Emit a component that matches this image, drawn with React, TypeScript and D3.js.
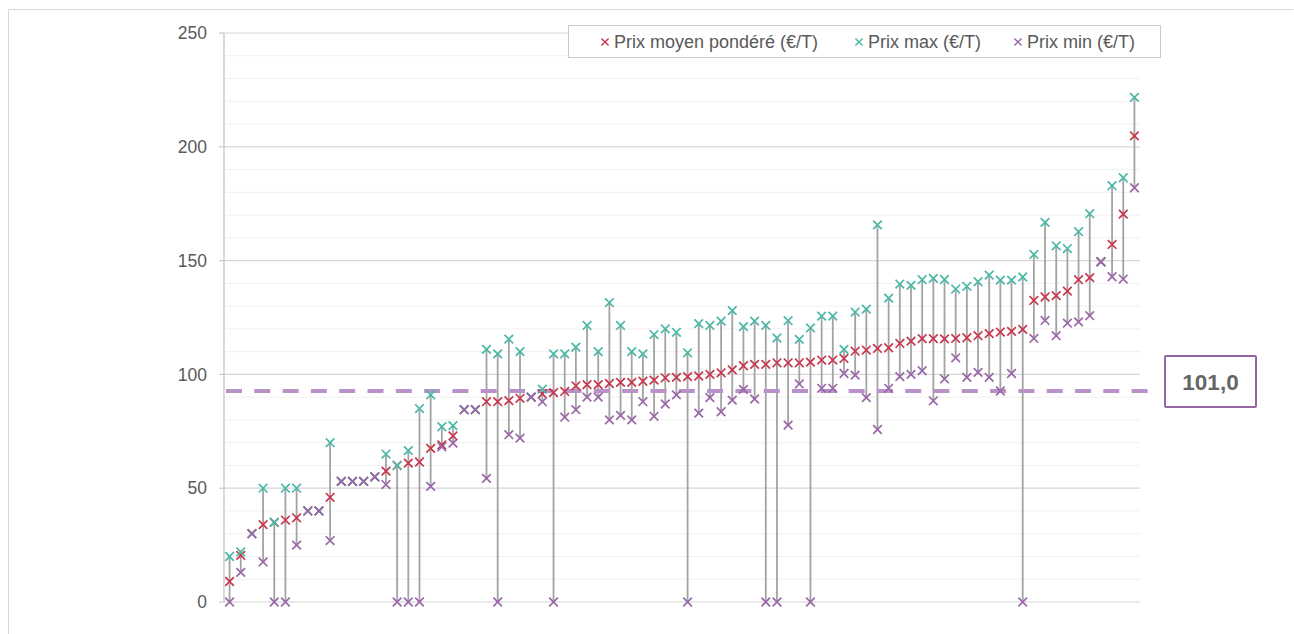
import React from "react";
import * as d3 from "d3";

const categories: number[] = Array.from({ length: 82 }, (_, i) => i + 1);

const avgPrice: number[] = [
  9, 20.5, 30, 34, 35, 36, 37, 40, 40, 46,
  53, 53, 53, 55, 57.5, 60, 61, 61.5, 67.5, 69,
  73, 84.5, 84.5, 88, 88, 88.5, 89.5, 90, 91.5, 92,
  92.5, 95, 95.5, 95.5, 96, 96.5, 96.5, 97, 97.5, 98.5,
  98.7, 99, 99.3, 100, 100.7, 102, 103.8, 104.4, 104.4, 105.1,
  105.1, 105.1, 105.4, 106.3, 106.3, 107, 110.2, 110.7, 111.4, 111.7,
  113.6, 114.6, 115.7, 115.7, 115.6, 115.8, 116.1, 117, 117.9, 118.6,
  118.9, 119.8, 132.5, 134, 134.6, 136.6, 141.6, 142.5, 149.5, 157.1,
  170.4, 204.8,
];

const maxPrice: number[] = [
  20, 22, 30, 50, 35, 50, 50, 40, 40, 70,
  53, 53, 53, 55, 65, 60, 66.5, 85, 91, 77,
  77.5, 84.5, 84.5, 111, 109, 115.5, 110, 90, 93.5, 109,
  109, 112, 121.5, 110, 131.5, 121.5, 110, 109, 117.5, 120,
  118.5, 109.5, 122.3, 121.5, 123.4, 128, 121, 123.4, 121.5, 116,
  123.6, 115.4, 120.4, 125.6, 125.6, 111, 127.4, 128.7, 165.7, 133.5,
  139.7, 139.1, 141.6, 142.2, 141.7, 137.5, 138.7, 140.7, 143.6, 141.4,
  141.4, 142.8, 152.7, 166.8, 156.5, 155.3, 162.7, 170.6, 149.5, 182.9,
  186.4, 221.7,
];

const minPrice: number[] = [
  0, 13, 30, 17.6, 0, 0, 25, 40, 40, 27,
  53, 53, 53, 55, 51.6, 0, 0, 0, 50.8, 68.2,
  69.8, 84.5, 84.5, 54.3, 0, 73.5, 72, 90, 88, 0,
  81.2, 84.5, 90, 90, 80, 82, 80, 88, 81.6, 87,
  91, 0, 83, 89.8, 83.6, 88.7, 93.4, 89.2, 0, 0,
  77.7, 95.8, 0, 93.9, 93.9, 100.4, 99.7, 89.8, 75.8, 93.9,
  99, 100, 101.6, 88.4, 98, 107.3, 98.7, 100.9, 98.7, 92.7,
  100.4, 0, 115.8, 123.7, 117, 122.5, 123.1, 125.8, 149.5, 142.9,
  141.9, 182,
];

const yTicks: number[] = [0, 50, 100, 150, 200, 250];
const minorTicks: number[] = d3.range(10, 250, 10).filter((v) => v % 50 !== 0);

const referenceValue = 92.7;
const referenceLabel = "101,0";

const seriesNames = ["Prix moyen pondéré (€/T)", "Prix max (€/T)", "Prix min (€/T)"];

const RED = "#c8374d";
const TEAL = "#4bb8a7";
const PURPLE = "#9a68a8";
const seriesColors = [RED, TEAL, PURPLE];

const FONT = "'Liberation Sans', Arial, Helvetica, sans-serif";

function Cross({ cx, cy, color, r = 4.3, sw = 1.7 }: { cx: number; cy: number; color: string; r?: number; sw?: number }) {
  return (
    <path
      d={`M${cx - r},${cy - r}L${cx + r},${cy + r}M${cx - r},${cy + r}L${cx + r},${cy - r}`}
      stroke={color}
      strokeWidth={sw}
      fill="none"
    />
  );
}

export default function App() {
  const W = 1294;
  const H = 634;
  const left = 224;
  const right = 1140;
  const top = 33;
  const bottom = 602;

  const x = d3.scaleBand<number>().domain(categories).range([left, right]).padding(0);
  const y = d3.scaleLinear().domain([0, 250]).range([bottom, top]);
  const cx = (c: number) => (x(c) as number) + x.bandwidth() / 2;

  const legendItems = [
    { name: seriesNames[0], color: seriesColors[0], mx: 605, tx: 614 },
    { name: seriesNames[1], color: seriesColors[1], mx: 859, tx: 868 },
    { name: seriesNames[2], color: seriesColors[2], mx: 1018, tx: 1027 },
  ];

  return (
    <div style={{ position: "fixed", left: 0, top: 0, width: W, height: H, background: "#fff" }}>
      <svg width={W} height={H} style={{ display: "block" }}>
        <rect x={0} y={0} width={W} height={H} fill="#fff" />
        {/* chart border */}
        <path d={`M8.5,${H + 5}L8.5,9.5L1293.5,9.5`} stroke="#d9d9d9" strokeWidth={1} fill="none" />

        {/* minor gridlines */}
        {minorTicks.map((v) => (
          <line key={"m" + v} x1={left} x2={right} y1={y(v)} y2={y(v)} stroke="#f0f0f0" strokeWidth={1} />
        ))}
        {/* major gridlines */}
        {yTicks.map((v) => (
          <line key={"M" + v} x1={left} x2={right} y1={y(v)} y2={y(v)} stroke="#d6d6d6" strokeWidth={1.2} />
        ))}
        {/* y axis */}
        <line x1={left} x2={left} y1={top} y2={bottom} stroke="#c8c8c8" strokeWidth={1.3} />
        {yTicks.map((v) => (
          <g key={"t" + v}>
            <line x1={left - 5} x2={left} y1={y(v)} y2={y(v)} stroke="#c8c8c8" strokeWidth={1.2} />
            <text
              x={207}
              y={y(v)}
              dy="0.35em"
              textAnchor="end"
              fontFamily={FONT}
              fontSize={17.5}
              fill="#595959"
            >
              {v}
            </text>
          </g>
        ))}

        {/* high-low lines */}
        {categories.map((c, i) =>
          maxPrice[i] > minPrice[i] ? (
            <line
              key={"hl" + c}
              x1={cx(c)}
              x2={cx(c)}
              y1={y(minPrice[i])}
              y2={y(maxPrice[i])}
              stroke="#a3a3a3"
              strokeWidth={1.8}
            />
          ) : null
        )}

        {/* reference dashed line */}
        <line
          x1={left + 2}
          x2={1149}
          y1={y(referenceValue)}
          y2={y(referenceValue)}
          stroke="#b892c8"
          strokeWidth={4}
          strokeDasharray="16 12.3"
        />

        {/* markers */}
        {categories.map((c, i) => (
          <Cross key={"a" + c} cx={cx(c)} cy={y(avgPrice[i])} color={RED} />
        ))}
        {categories.map((c, i) => (
          <Cross key={"x" + c} cx={cx(c)} cy={y(maxPrice[i])} color={TEAL} />
        ))}
        {categories.map((c, i) => (
          <Cross key={"n" + c} cx={cx(c)} cy={y(minPrice[i])} color={PURPLE} />
        ))}

        {/* legend */}
        <rect x={568.5} y={25.5} width={592} height={32} fill="#fff" stroke="#c9c9c9" strokeWidth={1} />
        {legendItems.map((it) => (
          <g key={it.name}>
            <Cross cx={it.mx} cy={42} color={it.color} r={3.6} sw={1.4} />
            <text x={it.tx} y={42} dy="0.35em" fontFamily={FONT} fontSize={18} fill="#595959">
              {it.name}
            </text>
          </g>
        ))}

        {/* reference label box */}
        <rect x={1165} y={356} width={91} height={51} fill="#fff" stroke="#9466a3" strokeWidth={2} rx={1} />
        <text
          x={1210.5}
          y={382}
          dy="0.36em"
          textAnchor="middle"
          fontFamily={FONT}
          fontWeight="bold"
          fontSize={22.5}
          fill="#666666"
        >
          {referenceLabel}
        </text>
      </svg>
    </div>
  );
}
